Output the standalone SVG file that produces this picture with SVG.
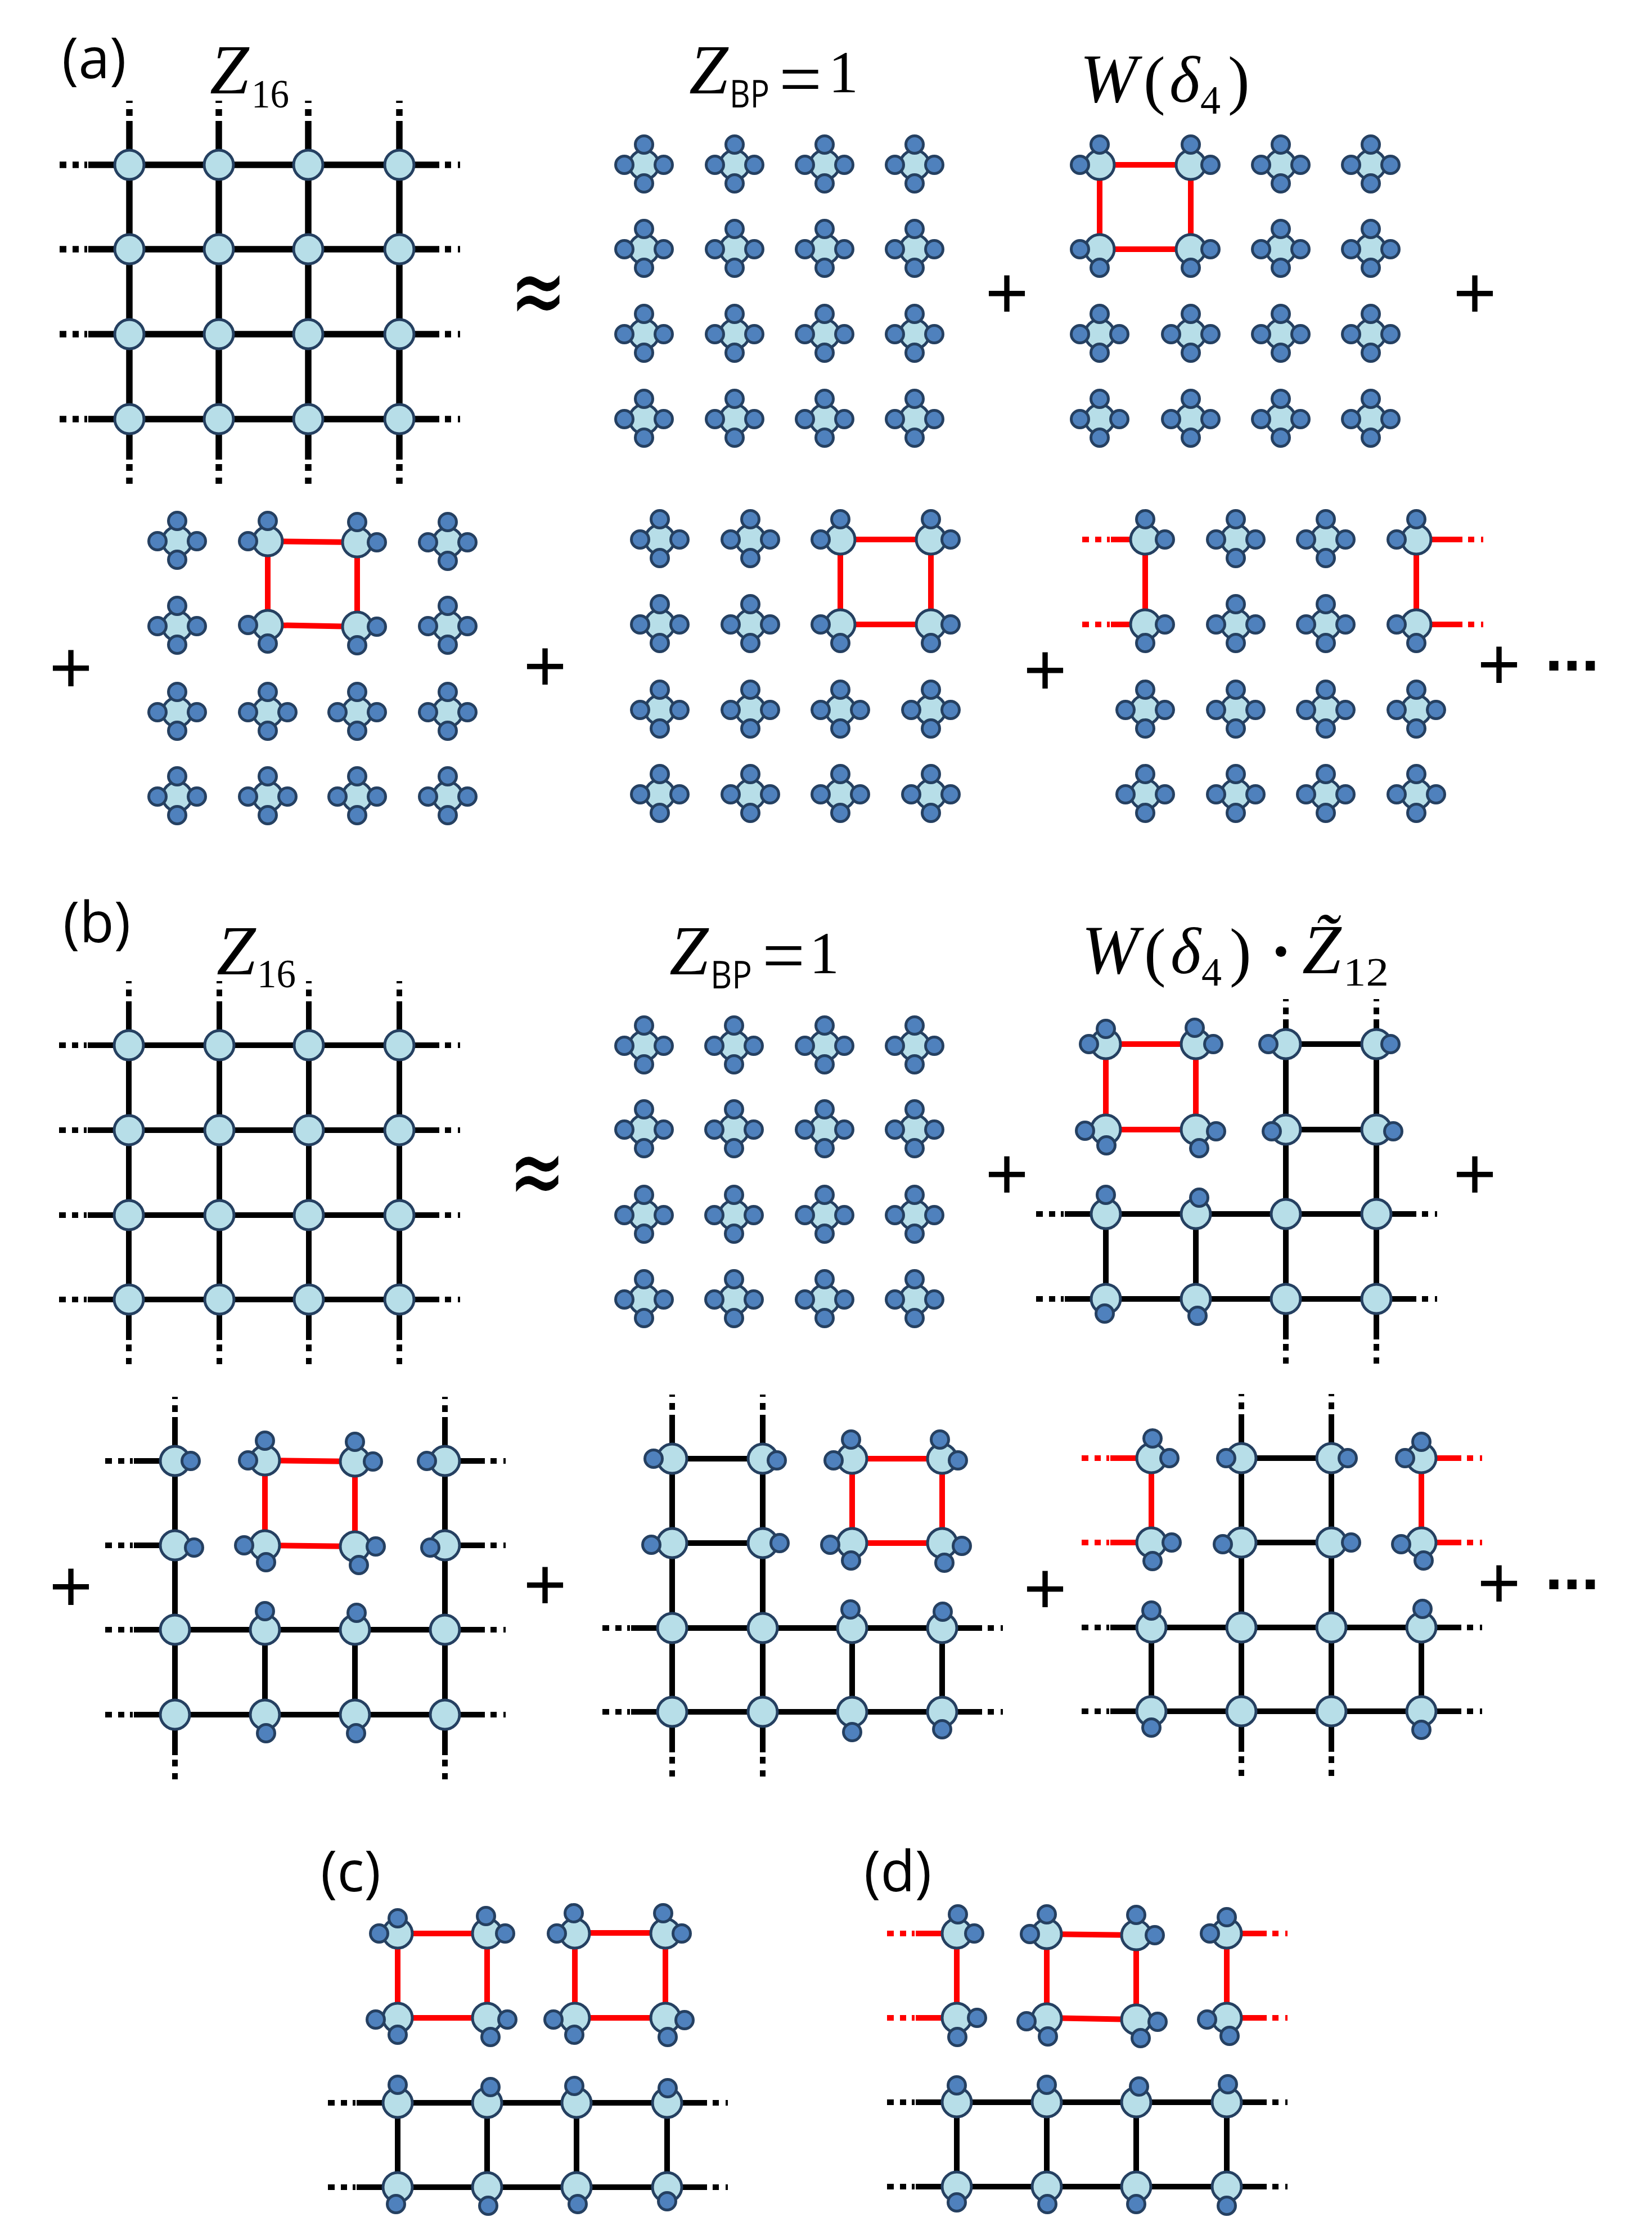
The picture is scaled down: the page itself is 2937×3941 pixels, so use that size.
<svg xmlns="http://www.w3.org/2000/svg" width="2937" height="3941" viewBox="0 0 2937 3941">
<style>
.n{fill:#B7DEE8;stroke:#254061;stroke-width:5}
.s{fill:#4F81BD;stroke:#254061;stroke-width:5}
.k{color:#000}
.r{color:#f00}
.w{stroke-width:10}
.w path,.l{fill:none;stroke:currentColor}
#conn-a{stroke-width:11.5}
.lab{font-family:"Open Sans","Liberation Sans",sans-serif;font-size:100px;fill:#000}
.m{font-family:"Liberation Serif",serif;font-size:116px;fill:#000}
.i{font-style:italic}
.wd{font-size:122px}
.sub{font-family:"Liberation Serif",serif;font-size:72px}
.sb{font-family:"Open Sans",sans-serif;font-size:68px}
.op{font-family:"Liberation Sans",sans-serif;font-size:132px;text-anchor:middle;fill:#000}
.dots{font-family:"Liberation Sans",sans-serif;font-weight:bold;font-size:115px;letter-spacing:-6px;text-anchor:middle;fill:#000}
.ap{font-family:"DejaVu Sans",sans-serif;font-size:120px;text-anchor:middle;fill:#000}
</style>
<defs>
<circle id="c" class="n" r="26"/>
<circle id="b" class="s" r="15.5"/>
<use id="T" href="#b" y="-36"/>
<use id="B" href="#b" y="33"/>
<use id="L" href="#b" x="-35"/>
<use id="R" href="#b" x="35"/>
<g id="F"><use href="#c"/><use href="#T"/><use href="#B"/><use href="#L"/><use href="#R"/></g>
<path id="SL" class="l" d="M-73 0H0M-124 0H-112M-101 0H-90M-80 0H-75"/>
<path id="SR" class="l" d="M0 0H71M81 0H92M104 0H108"/>
<path id="ST" class="l" d="M0 0V-78M0 -87V-99M0 -110V-114"/>
<path id="SB" class="l" d="M0 0V72M0 80V92M0 104V115"/>
</defs>
<rect width="2937" height="3941" fill="#fff"/>
<g id="connectors" class="w">
<g id="conn-a" class="k">
<path d="M230 293H710M230 443H710M230 594H710M230 745H710M230 293V745M389 293V745M548 293V745M710 293V745"/>
<use href="#ST" x="230" y="293"/><use href="#ST" x="389" y="293"/><use href="#ST" x="548" y="293"/><use href="#ST" x="710" y="293"/>
<use href="#SB" x="230" y="745"/><use href="#SB" x="389" y="745"/><use href="#SB" x="548" y="745"/><use href="#SB" x="710" y="745"/>
<use href="#SL" x="230" y="293"/><use href="#SL" x="230" y="443"/><use href="#SL" x="230" y="594"/><use href="#SL" x="230" y="745"/>
<use href="#SR" x="710" y="293"/><use href="#SR" x="710" y="443"/><use href="#SR" x="710" y="594"/><use href="#SR" x="710" y="745"/>
</g>
<g id="conn-a-red" class="r">
<path d="M1955 293H2117M1955 443H2117M1955 293V443M2117 293V443"/>
<path d="M476 962L635 964M476 1111L635 1114M476 962V1113M635 962V1113"/>
<path d="M1494 959H1655M1494 1110H1655M1494 959V1110M1655 959V1110"/>
<path d="M2036 959V1110M2518 959V1110"/>
<use href="#SL" x="2048" y="959"/><use href="#SL" x="2048" y="1110"/>
<use href="#SR" x="2529" y="959"/><use href="#SR" x="2529" y="1110"/>
</g>
<g id="conn-b" class="k">
<path d="M229 1858H710M229 2009H710M229 2160H710M229 2310H710M229 1858V2310M390 1858V2310M549 1858V2310M710 1858V2310"/>
<use href="#ST" x="229" y="1858"/><use href="#ST" x="390" y="1858"/><use href="#ST" x="549" y="1858"/><use href="#ST" x="710" y="1858"/>
<use href="#SB" x="229" y="2310"/><use href="#SB" x="390" y="2310"/><use href="#SB" x="549" y="2310"/><use href="#SB" x="710" y="2310"/>
<use href="#SL" x="229" y="1858"/><use href="#SL" x="229" y="2009"/><use href="#SL" x="229" y="2160"/><use href="#SL" x="229" y="2310"/>
<use href="#SR" x="710" y="1858"/><use href="#SR" x="710" y="2009"/><use href="#SR" x="710" y="2160"/><use href="#SR" x="710" y="2310"/>
<path d="M2286 1856V2309M2447 1856V2309M2286 1856H2447M2286 2008H2447M1966 2158H2447M1966 2309H2447M1966 2158V2309M2126 2158V2309"/>
<use href="#ST" x="2286" y="1890"/><use href="#ST" x="2447" y="1890"/>
<use href="#SB" x="2286" y="2309"/><use href="#SB" x="2447" y="2309"/>
<use href="#SL" x="1966" y="2158"/><use href="#SL" x="1966" y="2309"/>
<use href="#SR" x="2447" y="2158"/><use href="#SR" x="2447" y="2309"/>
<path d="M311 2597V3048M791 2597V3048M471 2897V3048M631 2897V3048M311 2897H791M311 3048H791"/>
<use href="#ST" x="311" y="2597"/><use href="#ST" x="791" y="2597"/>
<use href="#SB" x="311" y="3048"/><use href="#SB" x="791" y="3048"/>
<use href="#SL" x="311" y="2597"/><use href="#SL" x="311" y="2747"/><use href="#SL" x="311" y="2897"/><use href="#SL" x="311" y="3048"/>
<use href="#SR" x="791" y="2597"/><use href="#SR" x="791" y="2747"/><use href="#SR" x="791" y="2897"/><use href="#SR" x="791" y="3048"/>
<path d="M1195 2593V3043M1356 2593V3043M1515 2894V3043M1675 2894V3043M1195 2593H1356M1195 2743H1356M1195 2894H1675M1195 3043H1675"/>
<use href="#ST" x="1195" y="2593"/><use href="#ST" x="1356" y="2593"/>
<use href="#SB" x="1195" y="3043"/><use href="#SB" x="1356" y="3043"/>
<use href="#SL" x="1195" y="2894"/><use href="#SL" x="1195" y="3043"/>
<use href="#SR" x="1675" y="2894"/><use href="#SR" x="1675" y="3043"/>
<path d="M2207 2592V3042M2367 2592V3042M2047 2893V3042M2527 2893V3042M2207 2592H2367M2207 2742H2367M2047 2893H2527M2047 3042H2527"/>
<use href="#ST" x="2207" y="2592"/><use href="#ST" x="2367" y="2592"/>
<use href="#SB" x="2207" y="3042"/><use href="#SB" x="2367" y="3042"/>
<use href="#SL" x="2047" y="2893"/><use href="#SL" x="2047" y="3042"/>
<use href="#SR" x="2527" y="2893"/><use href="#SR" x="2527" y="3042"/>
</g>
<g id="conn-b-red" class="r">
<path d="M1966 1856H2126M1966 2008H2126M1966 1856V2008M2126 1856V2008"/>
<path d="M471 2596L631 2598M471 2747L631 2749M471 2596V2747M631 2596V2747"/>
<path d="M1515 2593H1675M1515 2743H1675M1515 2593V2743M1675 2593V2743"/>
<path d="M2047 2592V2742M2527 2592V2742"/>
<use href="#SL" x="2047" y="2592"/><use href="#SL" x="2047" y="2742"/>
<use href="#SR" x="2527" y="2592"/><use href="#SR" x="2527" y="2742"/>
</g>
<g id="conn-c" class="k">
<path d="M707 3738H1186M707 3888H1186M707 3738V3888M866 3738V3888M1025 3738V3888M1186 3738V3888"/>
<use href="#SL" x="707" y="3738"/><use href="#SL" x="707" y="3888"/>
<use href="#SR" x="1186" y="3738"/><use href="#SR" x="1186" y="3888"/>
</g>
<g id="conn-c-red" class="r">
<path d="M707 3437H866M707 3587H866M707 3437V3587M866 3437V3587M1022 3436H1183M1022 3587H1183M1022 3436V3587M1183 3436V3587"/>
</g>
<g id="conn-d" class="k">
<path d="M1701 3737H2181M1701 3887H2181M1701 3737V3887M1861 3737V3887M2020 3737V3887M2181 3737V3887"/>
<use href="#SL" x="1701" y="3737"/><use href="#SL" x="1701" y="3887"/>
<use href="#SR" x="2181" y="3737"/><use href="#SR" x="2181" y="3887"/>
</g>
<g id="conn-d-red" class="r">
<path d="M1701 3437V3587M2181 3437V3587M1861 3438L2020 3440M1861 3587L2020 3590M1861 3438V3588M2020 3438V3590"/>
<use href="#SL" x="1701" y="3437"/><use href="#SL" x="1701" y="3587"/>
<use href="#SR" x="2181" y="3437"/><use href="#SR" x="2181" y="3587"/>
</g>
</g>
<g id="a1">
<g id="a1-11" transform="translate(230 293)"><use href="#c"/></g><g id="a1-12" transform="translate(389 293)"><use href="#c"/></g><g id="a1-13" transform="translate(548 293)"><use href="#c"/></g><g id="a1-14" transform="translate(710 293)"><use href="#c"/></g>
<g id="a1-21" transform="translate(230 443)"><use href="#c"/></g><g id="a1-22" transform="translate(389 443)"><use href="#c"/></g><g id="a1-23" transform="translate(548 443)"><use href="#c"/></g><g id="a1-24" transform="translate(710 443)"><use href="#c"/></g>
<g id="a1-31" transform="translate(230 594)"><use href="#c"/></g><g id="a1-32" transform="translate(389 594)"><use href="#c"/></g><g id="a1-33" transform="translate(548 594)"><use href="#c"/></g><g id="a1-34" transform="translate(710 594)"><use href="#c"/></g>
<g id="a1-41" transform="translate(230 745)"><use href="#c"/></g><g id="a1-42" transform="translate(389 745)"><use href="#c"/></g><g id="a1-43" transform="translate(548 745)"><use href="#c"/></g><g id="a1-44" transform="translate(710 745)"><use href="#c"/></g>
</g>
<g id="a2">
<g id="a2-11" transform="translate(1145 293)"><use href="#F"/></g><g id="a2-12" transform="translate(1306 293)"><use href="#F"/></g><g id="a2-13" transform="translate(1466 293)"><use href="#F"/></g><g id="a2-14" transform="translate(1626 293)"><use href="#F"/></g>
<g id="a2-21" transform="translate(1145 443)"><use href="#F"/></g><g id="a2-22" transform="translate(1306 443)"><use href="#F"/></g><g id="a2-23" transform="translate(1466 443)"><use href="#F"/></g><g id="a2-24" transform="translate(1626 443)"><use href="#F"/></g>
<g id="a2-31" transform="translate(1145 594)"><use href="#F"/></g><g id="a2-32" transform="translate(1306 594)"><use href="#F"/></g><g id="a2-33" transform="translate(1466 594)"><use href="#F"/></g><g id="a2-34" transform="translate(1626 594)"><use href="#F"/></g>
<g id="a2-41" transform="translate(1145 745)"><use href="#F"/></g><g id="a2-42" transform="translate(1306 745)"><use href="#F"/></g><g id="a2-43" transform="translate(1466 745)"><use href="#F"/></g><g id="a2-44" transform="translate(1626 745)"><use href="#F"/></g>
</g>
<g id="a3">
<g id="a3-11" transform="translate(1955 293)"><use href="#c"/><use href="#T"/><use href="#L"/></g><g id="a3-12" transform="translate(2117 293)"><use href="#c"/><use href="#T"/><use href="#R"/></g><g id="a3-13" transform="translate(2277 293)"><use href="#F"/></g><g id="a3-14" transform="translate(2437 293)"><use href="#F"/></g>
<g id="a3-21" transform="translate(1955 443)"><use href="#c"/><use href="#B"/><use href="#L"/></g><g id="a3-22" transform="translate(2117 443)"><use href="#c"/><use href="#B"/><use href="#R"/></g><g id="a3-23" transform="translate(2277 443)"><use href="#F"/></g><g id="a3-24" transform="translate(2437 443)"><use href="#F"/></g>
<g id="a3-31" transform="translate(1955 594)"><use href="#F"/></g><g id="a3-32" transform="translate(2117 594)"><use href="#F"/></g><g id="a3-33" transform="translate(2277 594)"><use href="#F"/></g><g id="a3-34" transform="translate(2437 594)"><use href="#F"/></g>
<g id="a3-41" transform="translate(1955 745)"><use href="#F"/></g><g id="a3-42" transform="translate(2117 745)"><use href="#F"/></g><g id="a3-43" transform="translate(2277 745)"><use href="#F"/></g><g id="a3-44" transform="translate(2437 745)"><use href="#F"/></g>
</g>
<g id="a4">
<g id="a4-11" transform="translate(315 962)"><use href="#F"/></g><g id="a4-12" transform="translate(476 962)"><use href="#c"/><use href="#T"/><use href="#L"/></g><g id="a4-13" transform="translate(635 964)"><use href="#c"/><use href="#T"/><use href="#R"/></g><g id="a4-14" transform="translate(796 964)"><use href="#F"/></g>
<g id="a4-21" transform="translate(315 1113)"><use href="#F"/></g><g id="a4-22" transform="translate(476 1111)"><use href="#c"/><use href="#B"/><use href="#L"/></g><g id="a4-23" transform="translate(635 1114)"><use href="#c"/><use href="#B"/><use href="#R"/></g><g id="a4-24" transform="translate(796 1113)"><use href="#F"/></g>
<g id="a4-31" transform="translate(315 1266)"><use href="#F"/></g><g id="a4-32" transform="translate(476 1266)"><use href="#F"/></g><g id="a4-33" transform="translate(635 1266)"><use href="#F"/></g><g id="a4-34" transform="translate(796 1266)"><use href="#F"/></g>
<g id="a4-41" transform="translate(315 1416)"><use href="#F"/></g><g id="a4-42" transform="translate(476 1416)"><use href="#F"/></g><g id="a4-43" transform="translate(635 1416)"><use href="#F"/></g><g id="a4-44" transform="translate(796 1416)"><use href="#F"/></g>
</g>
<g id="a5">
<g id="a5-11" transform="translate(1173 959)"><use href="#F"/></g><g id="a5-12" transform="translate(1334 959)"><use href="#F"/></g><g id="a5-13" transform="translate(1494 959)"><use href="#c"/><use href="#T"/><use href="#L"/></g><g id="a5-14" transform="translate(1655 959)"><use href="#c"/><use href="#T"/><use href="#R"/></g>
<g id="a5-21" transform="translate(1173 1110)"><use href="#F"/></g><g id="a5-22" transform="translate(1334 1110)"><use href="#F"/></g><g id="a5-23" transform="translate(1494 1110)"><use href="#c"/><use href="#B"/><use href="#L"/></g><g id="a5-24" transform="translate(1655 1110)"><use href="#c"/><use href="#B"/><use href="#R"/></g>
<g id="a5-31" transform="translate(1173 1262)"><use href="#F"/></g><g id="a5-32" transform="translate(1334 1262)"><use href="#F"/></g><g id="a5-33" transform="translate(1494 1262)"><use href="#F"/></g><g id="a5-34" transform="translate(1655 1262)"><use href="#F"/></g>
<g id="a5-41" transform="translate(1173 1412)"><use href="#F"/></g><g id="a5-42" transform="translate(1334 1412)"><use href="#F"/></g><g id="a5-43" transform="translate(1494 1412)"><use href="#F"/></g><g id="a5-44" transform="translate(1655 1412)"><use href="#F"/></g>
</g>
<g id="a6">
<g id="a6-11" transform="translate(2036 959)"><use href="#c"/><use href="#T"/><use href="#R"/></g><g id="a6-12" transform="translate(2197 959)"><use href="#F"/></g><g id="a6-13" transform="translate(2357 959)"><use href="#F"/></g><g id="a6-14" transform="translate(2518 959)"><use href="#c"/><use href="#T"/><use href="#L"/></g>
<g id="a6-21" transform="translate(2036 1110)"><use href="#c"/><use href="#B"/><use href="#R"/></g><g id="a6-22" transform="translate(2197 1110)"><use href="#F"/></g><g id="a6-23" transform="translate(2357 1110)"><use href="#F"/></g><g id="a6-24" transform="translate(2518 1110)"><use href="#c"/><use href="#B"/><use href="#L"/></g>
<g id="a6-31" transform="translate(2036 1262)"><use href="#F"/></g><g id="a6-32" transform="translate(2197 1262)"><use href="#F"/></g><g id="a6-33" transform="translate(2357 1262)"><use href="#F"/></g><g id="a6-34" transform="translate(2518 1262)"><use href="#F"/></g>
<g id="a6-41" transform="translate(2036 1412)"><use href="#F"/></g><g id="a6-42" transform="translate(2197 1412)"><use href="#F"/></g><g id="a6-43" transform="translate(2357 1412)"><use href="#F"/></g><g id="a6-44" transform="translate(2518 1412)"><use href="#F"/></g>
</g>
<g id="b1">
<g id="b1-11" transform="translate(229 1858)"><use href="#c"/></g><g id="b1-12" transform="translate(390 1858)"><use href="#c"/></g><g id="b1-13" transform="translate(549 1858)"><use href="#c"/></g><g id="b1-14" transform="translate(710 1858)"><use href="#c"/></g>
<g id="b1-21" transform="translate(229 2009)"><use href="#c"/></g><g id="b1-22" transform="translate(390 2009)"><use href="#c"/></g><g id="b1-23" transform="translate(549 2009)"><use href="#c"/></g><g id="b1-24" transform="translate(710 2009)"><use href="#c"/></g>
<g id="b1-31" transform="translate(229 2160)"><use href="#c"/></g><g id="b1-32" transform="translate(390 2160)"><use href="#c"/></g><g id="b1-33" transform="translate(549 2160)"><use href="#c"/></g><g id="b1-34" transform="translate(710 2160)"><use href="#c"/></g>
<g id="b1-41" transform="translate(229 2310)"><use href="#c"/></g><g id="b1-42" transform="translate(390 2310)"><use href="#c"/></g><g id="b1-43" transform="translate(549 2310)"><use href="#c"/></g><g id="b1-44" transform="translate(710 2310)"><use href="#c"/></g>
</g>
<g id="b2">
<g id="b2-11" transform="translate(1145 1859)"><use href="#F"/></g><g id="b2-12" transform="translate(1305 1859)"><use href="#F"/></g><g id="b2-13" transform="translate(1466 1859)"><use href="#F"/></g><g id="b2-14" transform="translate(1626 1859)"><use href="#F"/></g>
<g id="b2-21" transform="translate(1145 2008)"><use href="#F"/></g><g id="b2-22" transform="translate(1305 2008)"><use href="#F"/></g><g id="b2-23" transform="translate(1466 2008)"><use href="#F"/></g><g id="b2-24" transform="translate(1626 2008)"><use href="#F"/></g>
<g id="b2-31" transform="translate(1145 2160)"><use href="#F"/></g><g id="b2-32" transform="translate(1305 2160)"><use href="#F"/></g><g id="b2-33" transform="translate(1466 2160)"><use href="#F"/></g><g id="b2-34" transform="translate(1626 2160)"><use href="#F"/></g>
<g id="b2-41" transform="translate(1145 2310)"><use href="#F"/></g><g id="b2-42" transform="translate(1305 2310)"><use href="#F"/></g><g id="b2-43" transform="translate(1466 2310)"><use href="#F"/></g><g id="b2-44" transform="translate(1626 2310)"><use href="#F"/></g>
</g>
<g id="b3">
<g id="b3-11" transform="translate(1966 1856)"><use href="#c"/><use href="#b" y="-27"/><use href="#b" x="-30"/></g>
<g id="b3-12" transform="translate(2126 1856)"><use href="#c"/><use href="#b" x="-2" y="-29"/><use href="#b" x="31"/></g>
<g id="b3-13" transform="translate(2286 1856)"><use href="#c"/><use href="#b" x="-31"/></g>
<g id="b3-14" transform="translate(2447 1856)"><use href="#c"/><use href="#b" x="25"/></g>
<g id="b3-21" transform="translate(1966 2008)"><use href="#c"/><use href="#b" x="-37" y="2"/><use href="#b" x="1" y="28"/></g>
<g id="b3-22" transform="translate(2126 2008)"><use href="#c"/><use href="#b" x="36" y="3"/><use href="#b" x="6" y="33"/></g>
<g id="b3-23" transform="translate(2286 2008)"><use href="#c"/><use href="#b" x="-25" y="3"/></g>
<g id="b3-24" transform="translate(2447 2008)"><use href="#c"/><use href="#b" x="30" y="3"/></g>
<g id="b3-31" transform="translate(1966 2158)"><use href="#c"/><use href="#b" y="-34"/></g>
<g id="b3-32" transform="translate(2126 2158)"><use href="#c"/><use href="#b" x="6" y="-29"/></g>
<g id="b3-33" transform="translate(2286 2158)"><use href="#c"/></g>
<g id="b3-34" transform="translate(2447 2158)"><use href="#c"/></g>
<g id="b3-41" transform="translate(1966 2309)"><use href="#c"/><use href="#b" x="-2" y="26"/></g>
<g id="b3-42" transform="translate(2126 2309)"><use href="#c"/><use href="#b" x="3" y="30"/></g>
<g id="b3-43" transform="translate(2286 2309)"><use href="#c"/></g>
<g id="b3-44" transform="translate(2447 2309)"><use href="#c"/></g>
</g>
<g id="b4">
<g id="b4-11" transform="translate(311 2597)"><use href="#c"/><use href="#b" x="28"/></g>
<g id="b4-12" transform="translate(471 2596)"><use href="#c"/><use href="#b" x="-30"/><use href="#b" y="-35"/></g>
<g id="b4-13" transform="translate(631 2598)"><use href="#c"/><use href="#b" y="-35"/><use href="#b" x="32"/></g>
<g id="b4-14" transform="translate(791 2597)"><use href="#c"/><use href="#b" x="-32"/></g>
<g id="b4-21" transform="translate(311 2747)"><use href="#c"/><use href="#b" x="34" y="4"/></g>
<g id="b4-22" transform="translate(471 2747)"><use href="#c"/><use href="#b" x="-37"/><use href="#b" x="2" y="30"/></g>
<g id="b4-23" transform="translate(631 2749)"><use href="#c"/><use href="#b" x="37"/><use href="#b" x="7" y="33"/></g>
<g id="b4-24" transform="translate(791 2747)"><use href="#c"/><use href="#b" x="-26" y="4"/></g>
<g id="b4-31" transform="translate(311 2897)"><use href="#c"/></g>
<g id="b4-32" transform="translate(471 2897)"><use href="#c"/><use href="#b" y="-33"/></g>
<g id="b4-33" transform="translate(631 2897)"><use href="#c"/><use href="#b" x="3" y="-30"/></g>
<g id="b4-34" transform="translate(791 2897)"><use href="#c"/></g>
<g id="b4-41" transform="translate(311 3048)"><use href="#c"/></g>
<g id="b4-42" transform="translate(471 3048)"><use href="#c"/><use href="#b" x="2" y="33"/></g>
<g id="b4-43" transform="translate(631 3048)"><use href="#c"/><use href="#b" x="2" y="33"/></g>
<g id="b4-44" transform="translate(791 3048)"><use href="#c"/></g>
</g>
<g id="b5">
<g id="b5-11" transform="translate(1195 2593)"><use href="#c"/><use href="#b" x="-33"/></g>
<g id="b5-12" transform="translate(1356 2593)"><use href="#c"/><use href="#b" x="25" y="3"/></g>
<g id="b5-13" transform="translate(1515 2593)"><use href="#c"/><use href="#b" x="-33" y="3"/><use href="#b" x="-2" y="-34"/></g>
<g id="b5-14" transform="translate(1675 2593)"><use href="#c"/><use href="#b" x="28" y="3"/><use href="#b" x="-4" y="-34"/></g>
<g id="b5-21" transform="translate(1195 2743)"><use href="#c"/><use href="#b" x="-37" y="3"/></g>
<g id="b5-22" transform="translate(1356 2743)"><use href="#c"/><use href="#b" x="30"/></g>
<g id="b5-23" transform="translate(1515 2743)"><use href="#c"/><use href="#b" x="-39" y="3"/><use href="#b" x="-2" y="31"/></g>
<g id="b5-24" transform="translate(1675 2743)"><use href="#c"/><use href="#b" x="35" y="5"/><use href="#b" x="4" y="35"/></g>
<g id="b5-31" transform="translate(1195 2894)"><use href="#c"/></g>
<g id="b5-32" transform="translate(1356 2894)"><use href="#c"/></g>
<g id="b5-33" transform="translate(1515 2894)"><use href="#c"/><use href="#b" x="-3" y="-33"/></g>
<g id="b5-34" transform="translate(1675 2894)"><use href="#c"/><use href="#b" x="1" y="-29"/></g>
<g id="b5-41" transform="translate(1195 3043)"><use href="#c"/></g>
<g id="b5-42" transform="translate(1356 3043)"><use href="#c"/></g>
<g id="b5-43" transform="translate(1515 3043)"><use href="#c"/><use href="#b" y="36"/></g>
<g id="b5-44" transform="translate(1675 3043)"><use href="#c"/><use href="#b" y="31"/></g>
</g>
<g id="b6">
<g id="b6-11" transform="translate(2047 2592)"><use href="#c"/><use href="#b" x="2" y="-35"/><use href="#b" x="32"/></g>
<g id="b6-12" transform="translate(2207 2592)"><use href="#c"/><use href="#b" x="-27"/></g>
<g id="b6-13" transform="translate(2367 2592)"><use href="#c"/><use href="#b" x="29"/></g>
<g id="b6-14" transform="translate(2527 2592)"><use href="#c"/><use href="#b" y="-29"/><use href="#b" x="-29"/></g>
<g id="b6-21" transform="translate(2047 2742)"><use href="#c"/><use href="#b" x="36"/><use href="#b" x="2" y="33"/></g>
<g id="b6-22" transform="translate(2207 2742)"><use href="#c"/><use href="#b" x="-33" y="3"/></g>
<g id="b6-23" transform="translate(2367 2742)"><use href="#c"/><use href="#b" x="35"/></g>
<g id="b6-24" transform="translate(2527 2742)"><use href="#c"/><use href="#b" x="-36" y="3"/><use href="#b" x="4" y="32"/></g>
<g id="b6-31" transform="translate(2047 2893)"><use href="#c"/><use href="#b" y="-30"/></g>
<g id="b6-32" transform="translate(2207 2893)"><use href="#c"/></g>
<g id="b6-33" transform="translate(2367 2893)"><use href="#c"/></g>
<g id="b6-34" transform="translate(2527 2893)"><use href="#c"/><use href="#b" x="2" y="-33"/></g>
<g id="b6-41" transform="translate(2047 3042)"><use href="#c"/><use href="#b" y="29"/></g>
<g id="b6-42" transform="translate(2207 3042)"><use href="#c"/></g>
<g id="b6-43" transform="translate(2367 3042)"><use href="#c"/></g>
<g id="b6-44" transform="translate(2527 3042)"><use href="#c"/><use href="#b" y="33"/></g>
</g>
<g id="c-grid">
<g id="c-11" transform="translate(707 3437)"><use href="#c"/><use href="#b" y="-27"/><use href="#b" x="-33"/></g>
<g id="c-12" transform="translate(866 3437)"><use href="#c"/><use href="#b" x="-2" y="-31"/><use href="#b" x="32"/></g>
<g id="c-13" transform="translate(1022 3437)"><use href="#c"/><use href="#b" x="-2" y="-36"/><use href="#b" x="-32"/></g>
<g id="c-14" transform="translate(1183 3437)"><use href="#c"/><use href="#b" x="-4" y="-36"/><use href="#b" x="29"/></g>
<g id="c-21" transform="translate(707 3587)"><use href="#c"/><use href="#b" x="-39" y="3"/><use href="#b" y="30"/></g>
<g id="c-22" transform="translate(866 3587)"><use href="#c"/><use href="#b" x="36" y="3"/><use href="#b" x="6" y="34"/></g>
<g id="c-23" transform="translate(1022 3587)"><use href="#c"/><use href="#b" x="-38" y="3"/><use href="#b" x="-1" y="30"/></g>
<g id="c-24" transform="translate(1183 3587)"><use href="#c"/><use href="#b" x="34" y="4"/><use href="#b" x="4" y="34"/></g>
<g id="c-31" transform="translate(707 3738)"><use href="#c"/><use href="#b" y="-32"/></g>
<g id="c-32" transform="translate(866 3738)"><use href="#c"/><use href="#b" x="6" y="-28"/></g>
<g id="c-33" transform="translate(1025 3738)"><use href="#c"/><use href="#b" x="-4" y="-30"/></g>
<g id="c-34" transform="translate(1186 3738)"><use href="#c"/><use href="#b" x="1" y="-26"/></g>
<g id="c-41" transform="translate(707 3888)"><use href="#c"/><use href="#b" x="-3" y="30"/></g>
<g id="c-42" transform="translate(866 3888)"><use href="#c"/><use href="#b" x="2" y="33"/></g>
<g id="c-43" transform="translate(1025 3888)"><use href="#c"/><use href="#b" x="2" y="30"/></g>
<g id="c-44" transform="translate(1186 3888)"><use href="#c"/><use href="#b" y="25"/></g>
</g>
<g id="d-grid">
<g id="d-11" transform="translate(1701 3437)"><use href="#c"/><use href="#b" x="2" y="-34"/><use href="#b" x="31"/></g>
<g id="d-12" transform="translate(1861 3438)"><use href="#c"/><use href="#b" x="-30"/><use href="#b" y="-35"/></g>
<g id="d-13" transform="translate(2020 3440)"><use href="#c"/><use href="#b" y="-36"/><use href="#b" x="33"/></g>
<g id="d-14" transform="translate(2181 3437)"><use href="#c"/><use href="#b" x="-30"/><use href="#b" y="-29"/></g>
<g id="d-21" transform="translate(1701 3587)"><use href="#c"/><use href="#b" x="36"/><use href="#b" x="1" y="34"/></g>
<g id="d-22" transform="translate(1861 3588)"><use href="#c"/><use href="#b" x="-36" y="5"/><use href="#b" x="2" y="32"/></g>
<g id="d-23" transform="translate(2020 3590)"><use href="#c"/><use href="#b" x="38" y="4"/><use href="#b" x="8" y="33"/></g>
<g id="d-24" transform="translate(2181 3587)"><use href="#c"/><use href="#b" x="-35" y="3"/><use href="#b" x="5" y="32"/></g>
<g id="d-31" transform="translate(1701 3737)"><use href="#c"/><use href="#b" y="-30"/></g>
<g id="d-32" transform="translate(1861 3737)"><use href="#c"/><use href="#b" y="-31"/></g>
<g id="d-33" transform="translate(2020 3737)"><use href="#c"/><use href="#b" x="5" y="-28"/></g>
<g id="d-34" transform="translate(2181 3737)"><use href="#c"/><use href="#b" x="2" y="-32"/></g>
<g id="d-41" transform="translate(1701 3887)"><use href="#c"/><use href="#b" y="28"/></g>
<g id="d-42" transform="translate(1861 3887)"><use href="#c"/><use href="#b" x="1" y="31"/></g>
<g id="d-43" transform="translate(2020 3887)"><use href="#c"/><use href="#b" y="31"/></g>
<g id="d-44" transform="translate(2181 3887)"><use href="#c"/><use href="#b" y="34"/></g>
</g>
<g id="labels">
<text class="lab" x="110" y="139">(a)</text>
<text class="lab" x="112" y="1675">(b)</text>
<text class="lab" x="570" y="3362">(c)</text>
<text class="lab" x="1536" y="3362">(d)</text>
<text class="m" x="373" y="166" style="font-size:125px"><tspan class="i">Z</tspan><tspan class="sub" x="447" y="191" textLength="67" lengthAdjust="spacingAndGlyphs">16</tspan></text>
<text class="m" x="1225" y="166" style="font-size:125px"><tspan class="i">Z</tspan><tspan class="sb" x="1297" y="191" textLength="71" lengthAdjust="spacingAndGlyphs">BP</tspan><tspan x="1385" y="186" style="font-size:135px">=</tspan><tspan x="1473" y="164" style="font-size:106px">1</tspan></text>
<text class="m" x="1920" y="181"><tspan class="i wd">W</tspan><tspan x="2033">(</tspan><tspan class="i" x="2079">δ</tspan><tspan class="sub" x="2134" y="202">4</tspan><tspan x="2183" y="181">)</tspan></text>
<text class="m" x="385" y="1732" style="font-size:125px"><tspan class="i">Z</tspan><tspan class="sub" x="457" y="1755" textLength="69" lengthAdjust="spacingAndGlyphs">16</tspan></text>
<text class="m" x="1190" y="1732" style="font-size:125px"><tspan class="i">Z</tspan><tspan class="sb" x="1263" y="1757" textLength="74" lengthAdjust="spacingAndGlyphs">BP</tspan><tspan x="1355" y="1744" style="font-size:135px">=</tspan><tspan x="1439" y="1730" style="font-size:106px">1</tspan></text>
<text class="m" x="1923" y="1730"><tspan class="i wd">W</tspan><tspan x="2034" y="1731">(</tspan><tspan class="i" x="2081" y="1730">δ</tspan><tspan class="sub" x="2136" y="1752">4</tspan><tspan x="2186" y="1731">)</tspan><tspan x="2258" y="1730" style="font-weight:bold">·</tspan><tspan class="i" x="2315" y="1730" style="font-size:125px">Z̃</tspan><tspan class="sub" x="2388" y="1752" textLength="81" lengthAdjust="spacingAndGlyphs">12</tspan></text>
<text class="ap" transform="translate(957 521) scale(1 1.5)" y="38">≈</text>
<text class="ap" transform="translate(955 2086) scale(1 1.5)" y="38">≈</text>
<text class="op" x="1790" y="566">+</text>
<text class="op" x="2622" y="566">+</text>
<text class="op" x="126" y="1232">+</text>
<text class="op" x="969" y="1229">+</text>
<text class="op" x="1858" y="1236">+</text>
<text class="op" x="2665" y="1226">+</text>
<text class="dots" x="2795" y="1222">···</text>
<text class="op" x="1790" y="2132">+</text>
<text class="op" x="2622" y="2132">+</text>
<text class="op" x="126" y="2865">+</text>
<text class="op" x="969" y="2862">+</text>
<text class="op" x="1858" y="2869">+</text>
<text class="op" x="2665" y="2859">+</text>
<text class="dots" x="2795" y="2855">···</text>
</g>
</svg>
